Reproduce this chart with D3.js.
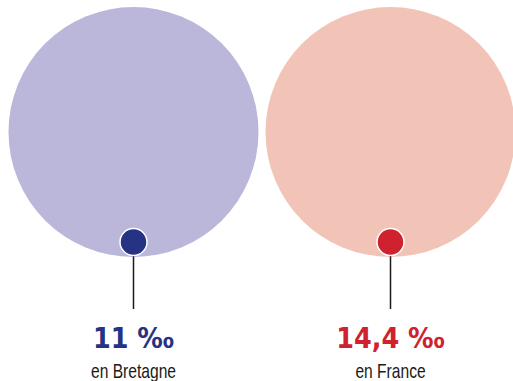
<!DOCTYPE html>
<html><head><meta charset="utf-8">
<script src="https://cdn.jsdelivr.net/npm/d3@7"></script>
<style>html,body{margin:0;padding:0;background:#fff;}svg{display:block;}</style>
</head><body>
<svg id="chart" width="513" height="381"></svg>
<script>
const categories = ["en Bretagne", "en France"];
const values = [11, 14.4];
const valueLabels = ["11 ‰", "14,4 ‰"];
const bigColors = ["#bab7da", "#f2c4b8"];
const dotColors = ["#263283", "#d0222e"];

const svg = d3.select("#chart");
const x = d3.scalePoint().domain(categories).range([133.5, 390.5]);
const R = 125, cy = 132;

const g = svg.selectAll("g.item").data(categories).join("g").attr("class","item")
  .attr("transform", d => `translate(${x(d)},0)`);

g.append("circle").attr("cx",0).attr("cy",cy).attr("r",R)
  .attr("fill",(d,i)=>bigColors[i]);
g.append("line").attr("x1",0).attr("x2",0).attr("y1",250).attr("y2",309)
  .attr("stroke","#1a1a1a").attr("stroke-width",1.5);
g.append("circle").attr("cx",0).attr("cy",242).attr("r",13.5)
  .attr("fill",(d,i)=>dotColors[i]).attr("stroke","#fff").attr("stroke-width",1.5);
g.append("text").attr("x",0).attr("y",348).attr("text-anchor","middle")
  .attr("transform","scale(0.88,1)")
  .attr("font-family","'DejaVu Sans', sans-serif").attr("font-weight","bold")
  .attr("font-size",29).attr("fill",(d,i)=>dotColors[i])
  .text((d,i)=>valueLabels[i]);
g.append("text").attr("x",0).attr("y",378).attr("text-anchor","middle")
  .attr("transform","scale(0.78,1)")
  .attr("font-family","'Liberation Sans', sans-serif")
  .attr("font-size",20).attr("fill","#1a1a1a")
  .text(d=>d);
</script>
</body></html>
